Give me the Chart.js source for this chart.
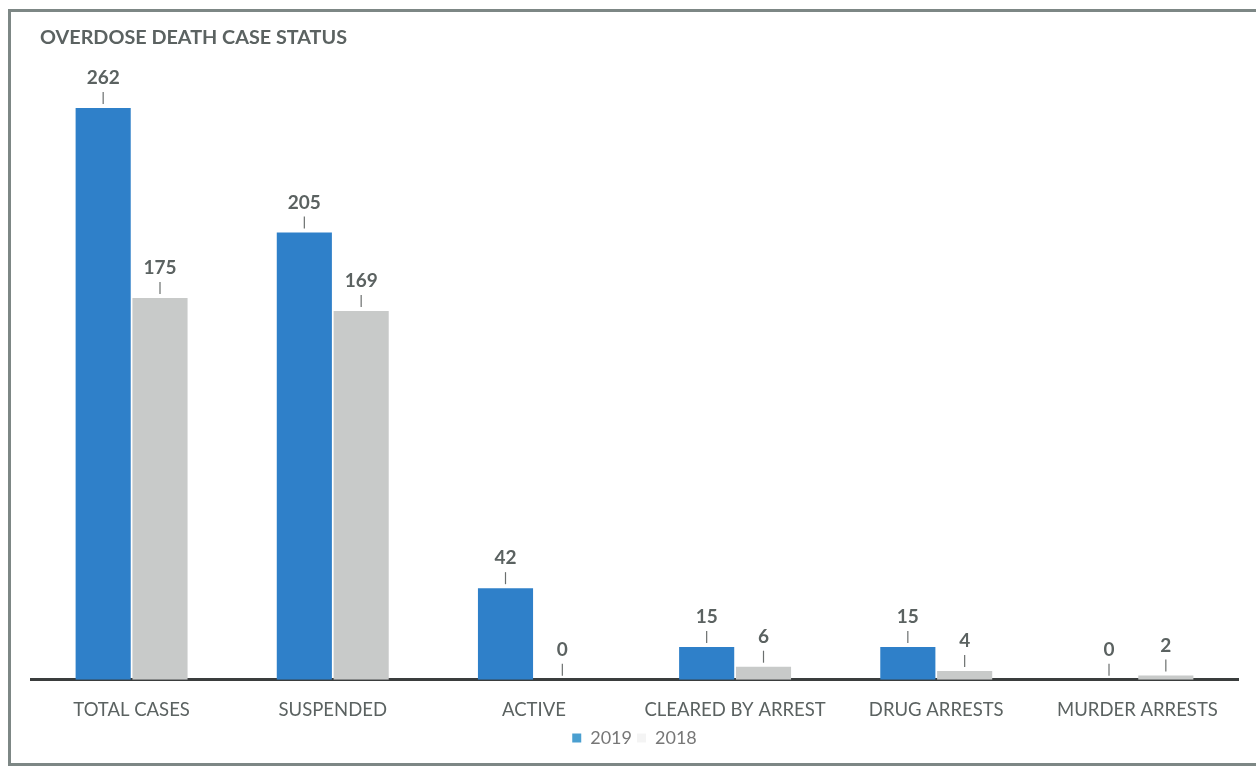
<!DOCTYPE html>
<html>
<head>
<meta charset="utf-8">
<script src="https://cdn.jsdelivr.net/npm/chart.js@4/dist/chart.umd.min.js"></script>
<style>
  html, body { margin: 0; padding: 0; background: #fff; }
  #frame {
    position: absolute; left: 8px; top: 9px;
    width: 1262px; height: 757px;
    border: 3px solid #7d8785;
    box-sizing: border-box;
  }
  #wrap { position: absolute; left: 0; top: 0; width: 1256px; height: 777px; }
</style>
</head>
<body>
<div id="frame"></div>
<div id="wrap"><canvas id="chart" width="1256" height="777"></canvas></div>
<script>
const categories = ["TOTAL CASES", "SUSPENDED", "ACTIVE", "CLEARED BY ARREST", "DRUG ARRESTS", "MURDER ARRESTS"];
const values2019 = [262, 205, 42, 15, 15, 0];
const values2018 = [175, 169, 0, 6, 4, 2];
const seriesLabels = ["2019", "2018"];
const chartTitle = "OVERDOSE DEATH CASE STATUS";

const textGray = "#5b6261";

// title drawn by hand so it can sit a bit right of the plot edge
const titlePlugin = {
    id: "titlePlugin",
    afterDraw(chart) {
        const ctx = chart.ctx;
        ctx.save();
        ctx.fillStyle = textGray;
        ctx.font = "bold 19.8px Lato";
        ctx.textAlign = "left";
        ctx.textBaseline = "middle";
        ctx.fillText(chartTitle, 40, 38);
        ctx.restore();
    }
};

// value labels with a small leader tick above each bar
const valueLabels = {
    id: "valueLabels",
    afterDatasetsDraw(chart) {
        const ctx = chart.ctx;
        ctx.save();
        chart.data.datasets.forEach((ds, i) => {
            const meta = chart.getDatasetMeta(i);
            meta.data.forEach((bar, j) => {
                const x = bar.x, y = bar.y;
                ctx.strokeStyle = "#6b6f6e";
                ctx.lineWidth = 1.2;
                ctx.beginPath();
                ctx.moveTo(x, y - 4);
                ctx.lineTo(x, y - 16);
                ctx.stroke();
                ctx.fillStyle = textGray;
                ctx.font = "bold 19px Lato";
                ctx.textAlign = "center";
                ctx.textBaseline = "middle";
                ctx.fillText(ds.data[j], x, y - 30);
            });
        });
        ctx.restore();
    }
};

const ctx = document.getElementById("chart").getContext("2d");
new Chart(ctx, {
    type: "bar",
    data: {
        labels: categories,
        datasets: [
            {
                label: seriesLabels[0],
                data: values2019,
                backgroundColor: "#2f80c9",
                barPercentage: 0.97,
                categoryPercentage: 0.565
            },
            {
                label: seriesLabels[1],
                data: values2018,
                backgroundColor: "#c8cac9",
                barPercentage: 0.97,
                categoryPercentage: 0.565
            }
        ]
    },
    options: {
        responsive: false,
        animation: false,
        layout: {
            padding: { left: 31, right: 18, top: 47, bottom: 20 }
        },
        plugins: {
            title: { display: false },
            legend: {
                position: "bottom",
                labels: {
                    color: "#777",
                    font: { family: "Lato", size: 18 },
                    boxWidth: 9,
                    boxHeight: 9,
                    padding: 5,
                    generateLabels(chart) {
                        return chart.data.datasets.map((ds, i) => ({
                            text: ds.label,
                            fillStyle: i === 0 ? "#4a9fd0" : "#f4f4f4",
                            strokeStyle: "rgba(0,0,0,0)",
                            lineWidth: 0,
                            fontColor: "#777",
                            datasetIndex: i
                        }));
                    }
                }
            },
            tooltip: { enabled: false }
        },
        scales: {
            x: {
                grid: { display: false },
                border: { display: true, color: "#3a3d3d", width: 3 },
                ticks: {
                    color: textGray,
                    font: { family: "Lato", size: 18.5 },
                    padding: 11,
                    maxRotation: 0
                },
                afterFit(scale) {
                    scale.height -= 8;
                }
            },
            y: {
                display: false,
                min: 0,
                max: 290
            }
        }
    },
    plugins: [valueLabels, titlePlugin]
});
</script>
</body>
</html>
